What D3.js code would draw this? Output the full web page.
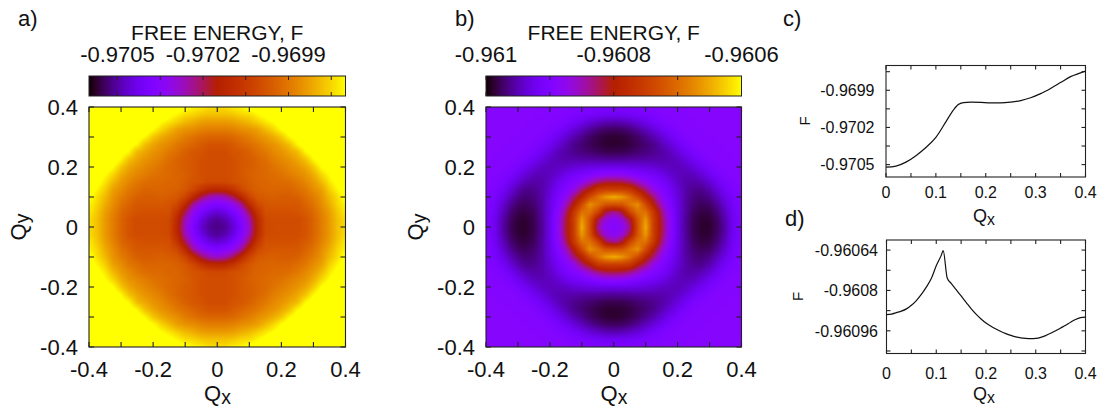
<!DOCTYPE html>
<html>
<head>
<meta charset="utf-8">
<script src="https://d3js.org/d3.v7.min.js"></script>
<style>
  body { margin: 0; background: #fff; }
  text { font-family: "Liberation Sans", Arial, sans-serif; fill: #111; }
</style>
</head>
<body>
<script>
// Q grid of one quadrant (Qx, Qy >= 0); the other three are mirror images
const gridQ = [0, 0.025, 0.05, 0.075, 0.1, 0.125, 0.15, 0.175, 0.2, 0.225, 0.25, 0.275, 0.3, 0.325, 0.35, 0.375, 0.4];

// map a): rows = Qy, cols = Qx, values are (F - baseA) * 1e5
const baseA = -0.97;
const gridA = [
  [-52,-51,-46,-38,-28,-12,-1,0,0,0,0,2,6,11,16,22,26],
  [-51,-49,-44,-36,-26,-11,-1,0,0,0,0,2,6,11,16,22,26],
  [-46,-44,-39,-32,-20,-7,1,1,1,1,2,4,7,12,17,23,28],
  [-38,-36,-32,-24,-11,-1,2,3,3,3,3,6,9,14,19,25,29],
  [-28,-26,-20,-11,-2,3,4,5,4,4,5,8,11,15,21,26,32],
  [-12,-11,-7,-1,3,5,6,6,6,6,8,10,14,17,24,29,34],
  [-1,-1,1,2,4,6,6,7,7,8,10,13,16,21,27,32,37],
  [0,0,1,3,5,6,7,8,9,11,13,15,19,25,30,35,38],
  [0,0,1,3,4,6,7,9,11,13,15,18,23,30,34,38,40],
  [0,0,1,3,4,6,8,11,13,15,18,22,29,34,37,39,40],
  [0,0,2,3,5,8,10,13,15,18,21,29,33,37,39,40,40],
  [2,2,4,6,8,10,13,15,18,22,29,33,37,40,40,40,40],
  [6,6,7,9,11,14,16,19,23,29,33,37,40,40,40,40,40],
  [11,11,12,14,15,17,21,25,30,34,37,40,40,40,40,40,40],
  [16,16,17,19,21,24,27,30,34,37,39,40,40,40,40,40,40],
  [22,22,23,25,26,29,32,35,38,39,40,40,40,40,40,40,40],
  [26,26,28,29,32,34,37,38,40,40,40,40,40,40,40,40,40]
];

// map b): rows = Qy, cols = Qx, values are (F - baseB) * 1e5
const baseB = -0.96;
const gridB = [
  [-89.2,-88.4,-84,-72.8,-64.8,-75.2,-81.6,-88,-92.8,-96,-98,-98.8,-98.8,-97.6,-95.2,-92,-90.4],
  [-88.4,-86.6,-81.7,-72.3,-66.2,-75.1,-81.9,-88.2,-92.8,-95.9,-97.9,-98.7,-98.6,-97.4,-95.0,-91.9,-90.4],
  [-84,-81.7,-74.0,-69.4,-69.5,-75.9,-83.2,-88.9,-92.9,-95.7,-97.6,-98.3,-98.1,-96.8,-94.4,-91.6,-90.2],
  [-72.8,-72.3,-69.4,-67.0,-73.5,-80.0,-85.5,-90.0,-93.0,-95.6,-97.1,-97.7,-97.4,-95.9,-93.6,-91.2,-90.1],
  [-64.8,-66.2,-69.5,-73.5,-79.0,-83.0,-88.0,-90.9,-93.3,-95.5,-96.7,-97.0,-96.3,-94.7,-92.5,-90.8,-89.8],
  [-75.2,-75.1,-75.9,-80.0,-83.0,-87.4,-89.6,-91.6,-93.7,-95.3,-96.2,-96.3,-95.2,-93.4,-91.4,-90.2,-89.6],
  [-81.6,-81.9,-83.2,-85.5,-88.0,-89.6,-91.0,-92.5,-94.3,-95.3,-95.5,-95.0,-93.7,-92.0,-90.5,-89.7,-89.4],
  [-88,-88.2,-88.9,-90.0,-90.9,-91.6,-92.5,-93.8,-94.6,-94.9,-94.7,-93.6,-92.1,-90.8,-89.9,-89.5,-89.4],
  [-92.8,-92.8,-92.9,-93.0,-93.3,-93.7,-94.3,-94.6,-94.7,-94.4,-93.3,-92.0,-90.8,-89.9,-89.4,-89.3,-89.2],
  [-96,-95.9,-95.7,-95.6,-95.5,-95.3,-95.3,-94.9,-94.4,-93.2,-91.9,-90.8,-89.8,-89.4,-89.3,-89.2,-89.2],
  [-98,-97.9,-97.6,-97.1,-96.7,-96.2,-95.5,-94.7,-93.3,-91.9,-90.6,-89.8,-89.5,-89.3,-89.2,-89.2,-89.2],
  [-98.8,-98.7,-98.3,-97.7,-97.0,-96.3,-95.0,-93.6,-92.0,-90.8,-89.8,-89.4,-89.3,-89.2,-89.2,-89.2,-89.2],
  [-98.8,-98.6,-98.1,-97.4,-96.3,-95.2,-93.7,-92.1,-90.8,-89.8,-89.5,-89.3,-89.2,-89.2,-89.2,-89.2,-89.2],
  [-97.6,-97.4,-96.8,-95.9,-94.7,-93.4,-92.0,-90.8,-89.9,-89.4,-89.3,-89.2,-89.2,-89.2,-89.2,-89.2,-89.2],
  [-95.2,-95.0,-94.4,-93.6,-92.5,-91.4,-90.5,-89.9,-89.4,-89.3,-89.2,-89.2,-89.2,-89.2,-89.2,-89.2,-89.2],
  [-92,-91.9,-91.6,-91.2,-90.8,-90.2,-89.7,-89.5,-89.3,-89.2,-89.2,-89.2,-89.2,-89.2,-89.2,-89.2,-89.2],
  [-90.4,-90.4,-90.2,-90.1,-89.8,-89.6,-89.4,-89.4,-89.2,-89.2,-89.2,-89.2,-89.2,-89.2,-89.2,-89.2,-89.2]
];

// curve c): F along Qx
const qxC = [0, 0.02, 0.04, 0.06, 0.08, 0.10, 0.12, 0.135, 0.145, 0.155, 0.17, 0.19, 0.21, 0.23, 0.25, 0.27, 0.29, 0.31, 0.33, 0.35, 0.37, 0.39, 0.4];
const fC = [-0.970521, -0.970512, -0.97048, -0.970428, -0.970362, -0.97028, -0.970155, -0.97006, -0.970015, -0.97,
            -0.969996, -0.969998, -0.970002, -0.970002, -0.969996, -0.969983, -0.96996, -0.969927, -0.969885, -0.969838,
            -0.96979, -0.96976, -0.969745];

// curve d): F along Qx
const qxD = [0, 0.01, 0.02, 0.03, 0.04, 0.05, 0.06, 0.07, 0.08, 0.09, 0.10, 0.11, 0.114, 0.122, 0.13, 0.14, 0.15, 0.16,
             0.17, 0.18, 0.19, 0.20, 0.21, 0.22, 0.23, 0.24, 0.25, 0.26, 0.27, 0.28, 0.29, 0.30, 0.31, 0.32, 0.33,
             0.34, 0.35, 0.36, 0.37, 0.38, 0.39, 0.40];
const fD = [-0.960896, -0.960894, -0.960888, -0.960882, -0.960873, -0.960859, -0.96084, -0.960816, -0.960787, -0.960753,
            -0.960702, -0.960661, -0.960642, -0.960751, -0.960772, -0.960797, -0.960822, -0.960847, -0.960872, -0.960894,
            -0.960913, -0.960929, -0.960942, -0.960953, -0.960963, -0.960971, -0.960978, -0.960984, -0.960988, -0.96099,
            -0.960991, -0.96099, -0.960986, -0.960979, -0.96097, -0.96096, -0.960949, -0.960938, -0.960926, -0.960915,
            -0.960908, -0.960906];

// colour ranges and tick values
const cbRangeA = [-0.9706, -0.9697];
const cbTicksA = [-0.9705, -0.97035, -0.9702, -0.97005, -0.9699, -0.96975];
const cbLabelsA = [-0.9705, -0.9702, -0.9699];
const cbRangeB = [-0.961, -0.9606];
const cbTicksB = [-0.961, -0.9609, -0.9608, -0.9607, -0.9606];
const cbLabelsB = [-0.961, -0.9608, -0.9606];
const qTicks = [-0.4, -0.3, -0.2, -0.1, 0, 0.1, 0.2, 0.3, 0.4];
const qLabels = [-0.4, -0.2, 0, 0.2, 0.4];
const qxTicksCD = [0, 0.05, 0.1, 0.15, 0.2, 0.25, 0.3, 0.35, 0.4];
const qxLabelsCD = [0, 0.1, 0.2, 0.3, 0.4];
const fRangeC = [-0.9706, -0.9697];
const fTicksC = [-0.9705, -0.97035, -0.9702, -0.97005, -0.9699, -0.96975];
const fLabelsC = [-0.9705, -0.9702, -0.9699];
const fRangeD = [-0.96105, -0.9606];
const fTicksD = [-0.96104, -0.96096, -0.96088, -0.9608, -0.96072, -0.96064];
const fLabelsD = [-0.96096, -0.9608, -0.96064];

const svg = d3.select("body").append("svg").attr("width", 1104).attr("height", 408);

// gnuplot default palette (rgbformulae 7,5,15)
const palette = t => d3.rgb(255 * Math.sqrt(t), 255 * t * t * t, 255 * Math.max(0, Math.sin(2 * Math.PI * t)));

function mirror(grid) {
  const n = grid.length - 1;
  return d3.range(-n, n + 1).map(j => d3.range(-n, n + 1).map(i => grid[Math.abs(j)][Math.abs(i)]));
}

function drawMap(x, y, grid, base, color) {
  const full = mirror(grid), n = full.length - 1;
  const step = gridQ[1] - gridQ[0], q0 = -gridQ[gridQ.length - 1];
  const [xa, xb] = x.range(), [yb, ya] = y.range();
  const w = Math.round(xb - xa), h = Math.round(yb - ya);
  const cv = document.createElement("canvas");
  cv.width = w; cv.height = h;
  const ctx = cv.getContext("2d");
  const img = ctx.createImageData(w, h);
  for (let py = 0; py < h; py++) {
    const fy = (y.invert(ya + (py + 0.5) * (yb - ya) / h) - q0) / step;
    const j = Math.max(0, Math.min(n - 1, Math.floor(fy))), ty = fy - j;
    for (let px = 0; px < w; px++) {
      const fx = (x.invert(xa + (px + 0.5) * (xb - xa) / w) - q0) / step;
      const i = Math.max(0, Math.min(n - 1, Math.floor(fx))), tx = fx - i;
      const v = (full[j][i] * (1 - tx) + full[j][i + 1] * tx) * (1 - ty)
              + (full[j + 1][i] * (1 - tx) + full[j + 1][i + 1] * tx) * ty;
      const c = d3.rgb(color(base + v * 1e-5));
      const k = 4 * (py * w + px);
      img.data[k] = c.r; img.data[k + 1] = c.g; img.data[k + 2] = c.b; img.data[k + 3] = 255;
    }
  }
  ctx.putImageData(img, 0, 0);
  svg.append("image").attr("x", xa).attr("y", ya).attr("width", xb - xa).attr("height", yb - ya)
    .attr("preserveAspectRatio", "none").attr("href", cv.toDataURL());
}

function colorBar(cx, y0, y1, color, ticks, labels) {
  const [xa, xb] = cx.range(), w = Math.round(xb - xa);
  const cv = document.createElement("canvas");
  cv.width = w; cv.height = 1;
  const ctx = cv.getContext("2d");
  for (let px = 0; px < w; px++) {
    ctx.fillStyle = color(cx.invert(xa + (px + 0.5) * (xb - xa) / w));
    ctx.fillRect(px, 0, 1, 1);
  }
  svg.append("image").attr("x", xa).attr("y", y0).attr("width", xb - xa).attr("height", y1 - y0)
    .attr("preserveAspectRatio", "none").attr("href", cv.toDataURL());
  const g = svg.append("g").attr("stroke", "#222").attr("stroke-width", 1).attr("fill", "none");
  ticks.forEach(v => {
    g.append("line").attr("x1", cx(v)).attr("x2", cx(v)).attr("y1", y0).attr("y2", y0 + 4);
    g.append("line").attr("x1", cx(v)).attr("x2", cx(v)).attr("y1", y1).attr("y2", y1 - 4);
  });
  g.append("rect").attr("x", xa).attr("y", y0).attr("width", xb - xa).attr("height", y1 - y0);
  svg.selectAll(null).data(labels).join("text")
    .attr("x", d => cx(d)).attr("y", 61.5).attr("text-anchor", "middle")
    .attr("font-size", 22).text(d => String(d));
  svg.append("text").attr("x", (xa + xb) / 2).attr("y", 39.5).attr("text-anchor", "middle")
    .attr("font-size", 21).text("FREE ENERGY, F");
}

function frame(x, y, xt, yt, len) {
  const [x0, x1] = x.range(), [y0, y1] = y.range();
  const g = svg.append("g").attr("stroke", "#222").attr("stroke-width", 1.1).attr("fill", "none");
  xt.forEach(v => {
    g.append("line").attr("x1", x(v)).attr("x2", x(v)).attr("y1", y0).attr("y2", y0 - len);
    g.append("line").attr("x1", x(v)).attr("x2", x(v)).attr("y1", y1).attr("y2", y1 + len);
  });
  yt.forEach(v => {
    g.append("line").attr("x1", x0).attr("x2", x0 + len).attr("y1", y(v)).attr("y2", y(v));
    g.append("line").attr("x1", x1).attr("x2", x1 - len).attr("y1", y(v)).attr("y2", y(v));
  });
  g.append("rect").attr("x", x0).attr("y", y1).attr("width", x1 - x0).attr("height", y0 - y1);
}

function tickLabels(x, y, xl, yl, size, xBase, yEnd) {
  svg.append("g").selectAll("text").data(xl).join("text")
    .attr("x", d => x(d)).attr("y", xBase).attr("text-anchor", "middle")
    .attr("font-size", size).text(d => String(d));
  svg.append("g").selectAll("text").data(yl).join("text")
    .attr("x", yEnd).attr("y", d => y(d) + size * 0.36).attr("text-anchor", "end")
    .attr("font-size", size).text(d => String(d));
}

function subLabel(x, y, main, sub, size, rotate) {
  const t = svg.append("text").attr("text-anchor", "middle").attr("font-size", size)
    .attr("transform", `translate(${x},${y})` + (rotate ? " rotate(-90)" : ""));
  t.append("tspan").text(main);
  t.append("tspan").attr("font-size", size * 0.88).attr("dy", size * 0.14).text(sub);
}

function panelLabel(x, y, s) {
  svg.append("text").attr("x", x).attr("y", y).attr("font-size", 22).text(s);
}

// ---- a) ----
const colorA = d3.scaleSequential(palette).domain(cbRangeA).clamp(true);
const xA = d3.scaleLinear().domain([-0.4, 0.4]).range([89, 345.5]);
const yA = d3.scaleLinear().domain([-0.4, 0.4]).range([347, 107]);
drawMap(xA, yA, gridA, baseA, colorA);
frame(xA, yA, qTicks, qTicks, 5);
tickLabels(xA, yA, qLabels, qLabels, 22, 376.5, 78);
colorBar(d3.scaleLinear().domain(cbRangeA).range([89, 345.5]), 76, 96, colorA, cbTicksA, cbLabelsA);
subLabel(217.5, 401, "Q", "x", 22, false);
subLabel(25.5, 227, "Q", "y", 22, true);
panelLabel(18, 25.5, "a)");

// ---- b) ----
const colorB = d3.scaleSequential(palette).domain(cbRangeB).clamp(true);
const xB = d3.scaleLinear().domain([-0.4, 0.4]).range([486, 741.5]);
const yB = d3.scaleLinear().domain([-0.4, 0.4]).range([347, 107]);
drawMap(xB, yB, gridB, baseB, colorB);
frame(xB, yB, qTicks, qTicks, 5);
tickLabels(xB, yB, qLabels, qLabels, 22, 376.5, 475);
colorBar(d3.scaleLinear().domain(cbRangeB).range([486, 741.5]), 76, 96, colorB, cbTicksB, cbLabelsB);
subLabel(614, 401, "Q", "x", 22, false);
subLabel(422.5, 227, "Q", "y", 22, true);
panelLabel(455, 25.5, "b)");

// ---- c) ----
const xC = d3.scaleLinear().domain([0, 0.4]).range([886, 1085.5]);
const yC = d3.scaleLinear().domain(fRangeC).range([177, 65.5]);
frame(xC, yC, qxTicksCD, fTicksC, 4);
svg.append("path").datum(d3.zip(qxC, fC))
  .attr("d", d3.line().x(d => xC(d[0])).y(d => yC(d[1])).curve(d3.curveMonotoneX))
  .attr("fill", "none").attr("stroke", "#111").attr("stroke-width", 1.2);
tickLabels(xC, yC, qxLabelsCD, fLabelsC, 16, 198, 874.5);
subLabel(984, 222, "Q", "x", 18, false);
svg.append("text").attr("transform", "translate(809.5,121) rotate(-90)").attr("text-anchor", "middle")
  .attr("font-size", 15).text("F");
panelLabel(783, 25.5, "c)");

// ---- d) ----
const xD = d3.scaleLinear().domain([0, 0.4]).range([886.5, 1085.5]);
const yD = d3.scaleLinear().domain(fRangeD).range([353.5, 240]);
frame(xD, yD, qxTicksCD, fTicksD, 4);
svg.append("path").datum(d3.zip(qxD, fD))
  .attr("d", d3.line().x(d => xD(d[0])).y(d => yD(d[1])).curve(d3.curveMonotoneX))
  .attr("fill", "none").attr("stroke", "#111").attr("stroke-width", 1.2);
tickLabels(xD, yD, qxLabelsCD, fLabelsD, 16, 378.5, 878);
subLabel(984, 400, "Q", "x", 18, false);
svg.append("text").attr("transform", "translate(802.5,296.5) rotate(-90)").attr("text-anchor", "middle")
  .attr("font-size", 15).text("F");
panelLabel(785, 226, "d)");
</script>
</body>
</html>
